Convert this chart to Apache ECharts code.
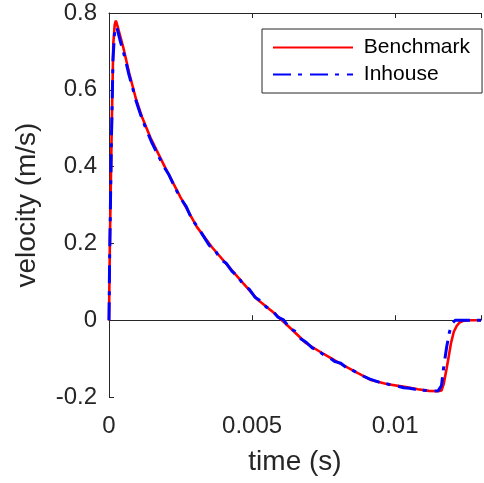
<!DOCTYPE html>
<html>
<head>
<meta charset="utf-8">
<script src="https://cdn.jsdelivr.net/npm/echarts@6/dist/echarts.min.js"></script>
<style>
html,body{margin:0;padding:0;background:#fff;overflow:hidden;}
#chart{width:484px;height:483px;}
</style>
</head>
<body>
<div id="chart"></div>
<script>
// time in seconds, velocity in m/s
var benchT = [0, 0.00003, 0.0001, 0.00015, 0.0002, 0.00024, 0.0003, 0.0005, 0.0007, 0.00095, 0.00115, 0.00145, 0.00196, 0.0025, 0.00307, 0.0036, 0.00419, 0.0047, 0.0052, 0.00578, 0.0064, 0.00689, 0.0075, 0.00804, 0.0086, 0.00916, 0.0097, 0.01027, 0.0108, 0.01118, 0.0115, 0.01162, 0.0117, 0.0118, 0.01186, 0.01195, 0.01205, 0.01215, 0.01225, 0.0124, 0.0126, 0.013];
var benchV = [0, 0.2, 0.52, 0.72, 0.77, 0.78, 0.765, 0.71, 0.645, 0.574, 0.53, 0.475, 0.398, 0.32, 0.243, 0.19, 0.139, 0.095, 0.053, 0.018, -0.025, -0.06, -0.088, -0.111, -0.134, -0.156, -0.166, -0.173, -0.18, -0.184, -0.185, -0.183, -0.165, -0.125, -0.10, -0.06, -0.03, -0.015, -0.006, -0.001, 0, 0];

var inhouseT = [0, 0.00002, 0.00008, 0.00014, 0.0002, 0.00026, 0.0003, 0.0004, 0.0005, 0.0006, 0.0007, 0.0008, 0.00095, 0.0011, 0.0013, 0.0015, 0.0017, 0.0019, 0.0021, 0.0023, 0.0025, 0.0027, 0.0029, 0.0031, 0.0033, 0.0035, 0.0037, 0.0039, 0.0041, 0.0043, 0.0045, 0.0047, 0.0049, 0.0051, 0.0053, 0.0055, 0.0057, 0.0059, 0.0061, 0.0063, 0.0065, 0.0067, 0.0069, 0.0071, 0.0073, 0.0075, 0.0077, 0.0079, 0.0081, 0.0083, 0.0085, 0.0087, 0.0089, 0.0091, 0.0093, 0.0095, 0.0097, 0.0099, 0.0101, 0.0103, 0.0105, 0.0107, 0.0109, 0.0111, 0.0113, 0.0115, 0.01155, 0.01162, 0.0117, 0.0118, 0.0119, 0.012, 0.0121, 0.0123, 0.0125, 0.013];
var inhouseV = [0, 0.15, 0.45, 0.68, 0.755, 0.765, 0.755, 0.725, 0.70, 0.67, 0.638, 0.612, 0.57, 0.536, 0.497, 0.462, 0.432, 0.402, 0.378, 0.346, 0.318, 0.296, 0.262, 0.243, 0.219, 0.195, 0.183, 0.158, 0.148, 0.127, 0.114, 0.092, 0.081, 0.06, 0.05, 0.034, 0.026, 0.008, 0.001, -0.02, -0.029, -0.048, -0.058, -0.072, -0.079, -0.09, -0.097, -0.108, -0.112, -0.124, -0.13, -0.138, -0.146, -0.153, -0.158, -0.163, -0.165, -0.17, -0.172, -0.176, -0.177, -0.18, -0.182, -0.183, -0.185, -0.184, -0.183, -0.17, -0.12, -0.07, -0.03, -0.008, 0, 0, 0, 0];

var xTickLabels = ['0', '0.005', '0.01'];
var yTickLabels = ['-0.2', '0', '0.2', '0.4', '0.6', '0.8'];
var seriesNames = ['Benchmark', 'Inhouse'];

function pairs(t, v) { return t.map(function (x, i) { return [x, v[i]]; }); }

var FONT = '"Liberation Sans", Arial, Helvetica, sans-serif';
var AX = '#262626';

var chart = echarts.init(document.getElementById('chart'), null, {renderer: 'canvas'});
chart.setOption({
  animation: false,
  backgroundColor: '#fff',
  grid: {left: 109, top: 13, width: 385, height: 384, containLabel: false},
  legend: {
    left: 262, top: 29, orient: 'vertical',
    itemWidth: 80, itemHeight: 14, itemGap: 6,
    padding: [8, 12, 8, 10],
    borderColor: AX, borderWidth: 1, backgroundColor: '#fff',
    itemStyle: {opacity: 0},
    textStyle: {fontSize: 21, fontFamily: FONT, color: '#000', lineHeight: 21},
    formatter: function (n) { return ' ' + n; },
    data: seriesNames
  },
  xAxis: [{
    type: 'value', min: 0, max: 0.013, interval: 0.005,
    name: 'time (s)', nameLocation: 'middle', nameGap: 51,
    nameTextStyle: {fontSize: 28, fontFamily: FONT, color: AX},
    axisLine: {show: true, lineStyle: {color: AX, width: 1}},
    axisTick: {show: true, inside: true, length: 5, lineStyle: {color: AX}},
    axisLabel: {fontSize: 24, fontFamily: FONT, color: AX, margin: 17,
      formatter: function (v) { var i = Math.round(v / 0.005); return Math.abs(v - i * 0.005) < 1e-9 ? xTickLabels[i] : ''; }},
    splitLine: {show: false}
  }, {
    type: 'value', min: 0, max: 0.013, interval: 0.005, position: 'top',
    axisLine: {show: true, lineStyle: {color: AX, width: 1}},
    axisTick: {show: true, inside: true, length: 5, lineStyle: {color: AX}},
    axisLabel: {show: false}, splitLine: {show: false}
  }],
  yAxis: {
    type: 'value', min: -0.2, max: 0.8, interval: 0.2,
    name: 'velocity (m/s)', nameLocation: 'middle', nameGap: 68,
    nameTextStyle: {fontSize: 28, fontFamily: FONT, color: AX},
    axisLine: {show: true, lineStyle: {color: AX, width: 1}},
    axisTick: {show: true, inside: true, length: 5, lineStyle: {color: AX}},
    axisLabel: {fontSize: 24, fontFamily: FONT, color: AX, margin: 12,
      formatter: function (v) { return yTickLabels[Math.round((v + 0.2) / 0.2)]; }},
    splitLine: {show: false}
  },
  series: [{
    name: seriesNames[0], type: 'line', data: pairs(benchT, benchV),
    showSymbol: false, symbol: 'none', smooth: false,
    lineStyle: {color: '#ff0000', width: 2.6},
    itemStyle: {color: '#ff0000'}
  }, {
    name: seriesNames[1], type: 'line', data: pairs(inhouseT, inhouseV),
    showSymbol: false, symbol: 'none', smooth: false,
    lineStyle: {color: '#0000ff', width: 3, type: [18, 7, 4, 8]},
    itemStyle: {color: '#0000ff'}
  }]
});
</script>
</body>
</html>
